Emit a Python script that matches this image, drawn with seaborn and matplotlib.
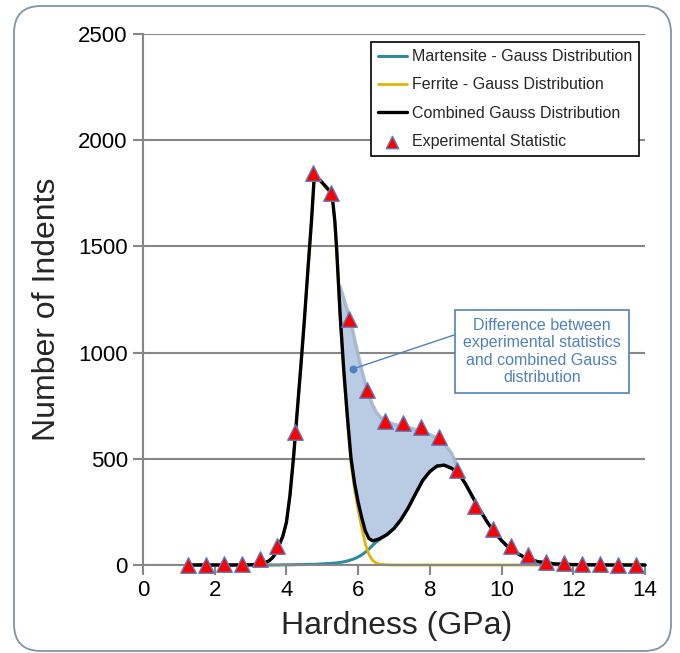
import matplotlib
matplotlib.use('Agg')
import matplotlib.pyplot as plt
import seaborn as sns
from matplotlib.patches import FancyBboxPatch

# experimental statistic (triangles)
exp_x = [1.25, 1.75, 2.25, 2.75, 3.25, 3.75, 4.25, 4.75, 5.25, 5.75, 6.25, 6.75, 7.25,
         7.75, 8.25, 8.75, 9.25, 9.75, 10.25, 10.75, 11.25, 11.75, 12.25, 12.75, 13.25, 13.75]
exp_y = [2, 2, 3, 5, 30, 88, 628, 1845, 1752, 1160, 826, 678, 669, 648, 604, 446,
         278, 170, 88, 48, 16, 10, 5, 3, 2, 1]

# gauss curves
curve_x = [1.25, 2.0, 2.5, 3.0, 3.3, 3.5, 3.6, 3.7, 3.8, 3.9, 4.0, 4.1, 4.2, 4.3, 4.4,
           4.5, 4.6, 4.7, 4.78, 5.27, 5.35, 5.4, 5.5, 5.6, 5.7, 5.8, 5.9, 6.0, 6.1, 6.2,
           6.3, 6.4, 6.5, 6.6, 6.8, 7.0, 7.2, 7.4, 7.6, 7.8, 8.0, 8.2, 8.4, 8.6, 8.8,
           9.0, 9.2, 9.4, 9.6, 9.8, 10.0, 10.2, 10.4, 10.6, 10.8, 11.0, 11.5, 12.0, 13.0, 14.0]
ferrite = [0, 0, 0, 1, 5, 18, 32, 55, 95, 135, 200, 330, 510, 720, 930,
           1150, 1390, 1620, 1838, 1742, 1610, 1480, 1160, 900, 680, 480, 355, 258, 175, 100,
           50, 22, 10, 4, 1, 0, 0, 0, 0, 0, 0, 0, 0, 0, 0,
           0, 0, 0, 0, 0, 0, 0, 0, 0, 0, 0, 0, 0, 0, 0]
martensite = [0, 0, 0, 0, 0, 0, 0, 0, 0, 1, 1, 1, 1, 2, 2,
              2, 3, 3, 3, 8, 9, 10, 12, 15, 19, 24, 30, 38, 48, 60,
              75, 92, 108, 120, 142, 172, 215, 270, 335, 398, 440, 466, 470, 456, 432,
              380, 318, 258, 202, 155, 115, 82, 58, 40, 26, 16, 5, 2, 0, 0]
combined = [f + m for f, m in zip(ferrite, martensite)]

# upper edge of the shaded difference (x = 5.5 ... 8.8 of curve_x)
diff_upper = [1310, 1255, 1200, 1145, 1065, 990, 920, 855, 800, 755, 722, 700, 675,
              662, 655, 648, 638, 627, 614, 598, 572, 528, 455]

i0 = curve_x.index(5.5)
i1 = curve_x.index(8.8) + 1
diff_x = curve_x[i0:i1]
diff_lower = combined[i0:i1]

sns.set_style('white')
plt.rcParams['font.family'] = ['Liberation Sans', 'DejaVu Sans']

fig = plt.figure(figsize=(6.8, 6.53), dpi=100)
ax = fig.add_axes([143 / 680, 88 / 653, 502 / 680, 531 / 653])

grey = '#878787'
ax.fill_between(diff_x, diff_lower, diff_upper, color='#bacce4', lw=0, zorder=1)
sns.lineplot(x=diff_x, y=diff_upper, color='#9fb2ca', lw=2.5, alpha=0.8, ax=ax, zorder=1.5)

sns.lineplot(x=curve_x, y=martensite, color='#2f8aa0', lw=2.2, ax=ax, zorder=2,
             clip_on=False, label='Martensite - Gauss Distribution')
sns.lineplot(x=curve_x, y=ferrite, color='#dfb50a', lw=2.0, ax=ax, zorder=2.5,
             clip_on=False, label='Ferrite - Gauss Distribution')
sns.lineplot(x=curve_x, y=combined, color='black', lw=2.4, ax=ax, zorder=3,
             clip_on=False, label='Combined Gauss Distribution')
sns.scatterplot(x=exp_x, y=exp_y, marker='^', s=125, color='#ff0000',
                edgecolor='#5a7fbf', linewidth=1.0, ax=ax, zorder=4, clip_on=False,
                label='Experimental Statistic')

# annotation
blue = '#4f81bd'
ax.annotate('Difference between\nexperimental statistics\nand combined Gauss\ndistribution',
            xy=(5.85, 923), xytext=(11.12, 1005), ha='center', va='center',
            fontsize=11.5, color=blue, linespacing=1.2, zorder=6,
            bbox=dict(boxstyle='square,pad=0.5', fc='white', ec=blue, lw=1.2),
            arrowprops=dict(arrowstyle='-', color=blue, lw=1.0, relpos=(0, 0.79),
                            shrinkA=0, shrinkB=0))
ax.scatter([5.85], [923], s=22, color=blue, zorder=6)

ax.set_xlim(0, 14)
ax.set_ylim(0, 2500)
ax.set_xticks(range(0, 15, 2))
ax.set_yticks(range(0, 2501, 500))
ax.yaxis.grid(True, color=grey, lw=1.5)
ax.xaxis.grid(False)
ax.set_axisbelow(True)
for side in ['top', 'right']:
    ax.spines[side].set_visible(False)
for side in ['left', 'bottom']:
    ax.spines[side].set_color(grey)
    ax.spines[side].set_linewidth(1.5)
ax.tick_params(axis='both', which='major', direction='out', length=7, width=1.5,
               color=grey, labelsize=16, labelcolor='black', pad=4)
ax.tick_params(axis='x', bottom=True)
ax.tick_params(axis='y', left=True)

ax.set_xlabel('Hardness (GPa)', fontsize=23)
ax.set_ylabel('Number of Indents', fontsize=23)
ax.xaxis.set_label_coords(0.505, -0.087)
ax.yaxis.set_label_coords(-0.161, 0.482)

leg = ax.legend(loc='upper right', bbox_to_anchor=(0.988, 0.985), borderaxespad=0,
                frameon=True, fancybox=False, framealpha=1, edgecolor='black',
                fontsize=11.5, handlelength=1.8, labelspacing=0.83, handletextpad=0.3,
                borderpad=0.45, markerscale=0.8)
leg.get_frame().set_linewidth(1.2)
leg.set_zorder(7)

# rounded outer frame
fig.patches.append(FancyBboxPatch((14, 2), 657, 645, boxstyle='round,pad=0,rounding_size=27',
                                  transform=None, fc='none', ec='#7f95a6', lw=1.3))

fig.savefig('out.png', dpi=100)
